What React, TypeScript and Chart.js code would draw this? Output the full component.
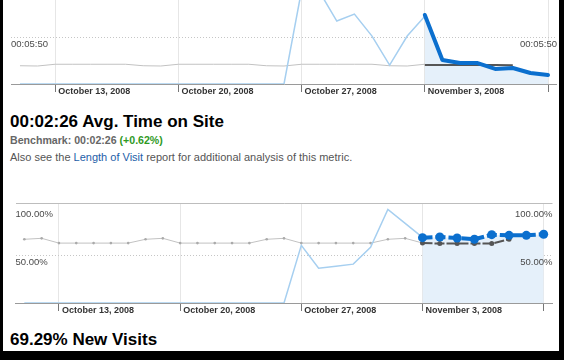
import React, { useEffect, useRef } from "react";
import { Chart, registerables } from "chart.js";

Chart.register(...registerables);

const FONT = "'Liberation Sans', Arial, Helvetica, sans-serif";
const N = null;

// 31 days, Oct 11 2008 .. Nov 10 2008
const days = [
  "Oct 11", "Oct 12", "Oct 13", "Oct 14", "Oct 15", "Oct 16", "Oct 17", "Oct 18",
  "Oct 19", "Oct 20", "Oct 21", "Oct 22", "Oct 23", "Oct 24", "Oct 25", "Oct 26",
  "Oct 27", "Oct 28", "Oct 29", "Oct 30", "Oct 31", "Nov 1", "Nov 2", "Nov 3",
  "Nov 4", "Nov 5", "Nov 6", "Nov 7", "Nov 8", "Nov 9", "Nov 10",
];

const tickIndex = [2, 9, 16, 23, 30];
const tickLabels = ["October 13, 2008", "October 20, 2008", "October 27, 2008", "November 3, 2008", ""];

// Avg. time on site (seconds)
const timeSelected = [N, N, N, N, N, N, N, N, N, N, N, N, N, N, N, N, N, N, N, N, N, N, N, 514, 179, 156, 156, 112, 119, 82, 67];
const timeEarlier = [0, 0, 0, 0, 0, 0, 0, 0, 0, 0, 0, 0, 0, 0, 0, 0, 700, 690, 469, 521, 357, 141, 357, 505, N, N, N, N, N, N, N];
const timeBenchmark = [136, 134, 147, 147, 147, 147, 147, 136, 134, 147, 147, 147, 147, 147, 136, 134, 147, 147, 147, 147, 147, 136, 134, 147, N, N, N, N, N, N, N];
const timeBenchmarkSelected = [N, N, N, N, N, N, N, N, N, N, N, N, N, N, N, N, N, N, N, N, N, N, N, 142, 142, 142, 142, 142, 140, N, N];
const timeTickValues = [0, 350, 700];
const timeTickLabels = ["", "00:05:50", ""];

// New visits (%)
const newSelected = [N, N, N, N, N, N, N, N, N, N, N, N, N, N, N, N, N, N, N, N, N, N, N, 68.3, 69.0, 67.9, 66.6, 71.4, 70.7, 70.7, 71.8];
const newEarlier = [0, 0, 0, 0, 0, 0, 0, 0, 0, 0, 0, 0, 0, 0, 0, 0, 60.3, 36.4, 38.5, 40.6, 58.2, 97.8, 83.2, 68.6, N, N, N, N, N, N, N];
const newBenchmark = [66.6, 67.6, 62.6, 62.6, 62.6, 62.6, 62.6, 66.6, 67.6, 62.6, 62.6, 62.6, 62.6, 62.6, 66.6, 67.6, 62.6, 62.6, 62.6, 62.6, 62.6, 66.6, 67.6, 62.7, N, N, N, N, N, N, N];
const newBenchmarkSelected = [N, N, N, N, N, N, N, N, N, N, N, N, N, N, N, N, N, N, N, N, N, N, N, 62.7, 62.1, 62.1, 62.1, 62.1, 66.6, N, N];
const newTickValues = [0, 50, 100, 104];
const newTickLabels = ["", "50.00%", "100.00%", ""];

const DARK_BLUE = "#0b6fce";
const LIGHT_BLUE = "#a6cff0";
const FILL_BLUE = "#e5f0fa";
const DARK_GRAY = "#555555";
const LIGHT_GRAY = "#c2c2c2";

const pts = (arr: (number | null)[]) =>
  arr.map((y, i) => ({ x: i, y, d: days[i] })).filter((p) => p.y !== null);

function yAxis(position: "left" | "right", max: number, values: number[], labels: string[], dotted: number, solid: number, showGrid: boolean) {
  return {
    type: "linear",
    position,
    min: 0,
    max,
    afterBuildTicks: (s: any) => {
      s.ticks = values.map((v) => ({ value: v }));
    },
    afterFit: (s: any) => {
      s.width = 0;
      s.paddingTop = 0;
      s.paddingBottom = 0;
    },
    grid: {
      display: showGrid,
      drawTicks: false,
      color: (c: any) => {
        const v = c.tick ? c.tick.value : null;
        if (v === dotted) return "#c6c6c6";
        if (v === solid) return "#bdbdbd";
        return "rgba(0,0,0,0)";
      },
      lineWidth: 1,
    },
    border: {
      display: false,
      dash: (c: any) => (c.tick && c.tick.value === dotted ? [1, 2] : []),
    },
    ticks: {
      z: 1,
      mirror: true,
      padding: 0,
      labelOffset: 7,
      color: "#4a4a4a",
      font: { family: FONT, size: 9.5 },
      callback: (v: any) => {
        const k = values.indexOf(v);
        return k >= 0 ? labels[k] : "";
      },
    },
  };
}

function makeConfig(datasets: any[], max: number, values: number[], labels: string[], dotted: number, solid: number) {
  return {
    type: "line",
    data: { datasets },
    options: {
      animation: false,
      responsive: false,
      devicePixelRatio: 1,
      events: [],
      layout: { padding: { top: 4, left: 0, right: 0, bottom: 0 } },
      elements: { line: { tension: 0 } },
      plugins: {
        legend: { display: false },
        tooltip: { enabled: false },
        filler: { drawTime: "beforeDatasetsDraw" },
      },
      scales: {
        x: {
          type: "linear",
          min: -0.51,
          max: 30.51,
          afterBuildTicks: (s: any) => {
            s.ticks = tickIndex.map((v) => ({ value: v }));
          },
          afterFit: (s: any) => {
            s.height = 20;
            s.paddingLeft = 0;
            s.paddingRight = 0;
          },
          grid: { color: "#e6e6e6", tickColor: "#777", tickLength: 8, drawOnChartArea: true, offset: false },
          border: { display: true, color: "#9a9a9a", width: 1 },
          ticks: {
            autoSkip: false,
            maxRotation: 0,
            minRotation: 0,
            align: "start",
            labelOffset: 3,
            padding: -6,
            color: "#333",
            font: { family: FONT, size: 9, weight: "bold" },
            callback: (v: any) => {
              const k = tickIndex.indexOf(v);
              return k >= 0 ? tickLabels[k] : "";
            },
          },
        },
        y: yAxis("left", max, values, labels, dotted, solid, true),
        y2: yAxis("right", max, values, labels, dotted, solid, false),
      },
    },
  };
}

function LineChart({ top, height, config }: { top: number; height: number; config: any }) {
  const ref = useRef<HTMLCanvasElement>(null);
  useEffect(() => {
    const chart = new Chart(ref.current as HTMLCanvasElement, config);
    return () => chart.destroy();
  }, []);
  return (
    <canvas
      ref={ref}
      width={546}
      height={height}
      style={{ position: "absolute", left: 8, top, width: 546, height }}
    />
  );
}

const timeConfig = makeConfig(
  [
    { data: pts(timeSelected), borderColor: DARK_BLUE, borderWidth: 4, pointRadius: 0, fill: "origin", backgroundColor: FILL_BLUE, borderJoinStyle: "round", borderCapStyle: "round" },
    { data: pts(timeBenchmarkSelected), borderColor: DARK_GRAY, borderWidth: 2, pointRadius: 0, fill: false },
    { data: pts(timeEarlier), borderColor: LIGHT_BLUE, borderWidth: 1.5, pointRadius: 0, fill: false },
    { data: pts(timeBenchmark), borderColor: LIGHT_GRAY, borderWidth: 1, pointRadius: 0, fill: false },
  ],
  700,
  timeTickValues,
  timeTickLabels,
  350,
  700
);

const newConfig = makeConfig(
  [
    { data: pts(newSelected), borderColor: DARK_BLUE, borderWidth: 4, borderDash: [10, 3], pointRadius: 4.5, pointBackgroundColor: DARK_BLUE, pointBorderWidth: 0, fill: "origin", backgroundColor: FILL_BLUE },
    { data: pts(newBenchmarkSelected), borderColor: DARK_GRAY, borderWidth: 2, borderDash: [10, 2], pointRadius: 2.5, pointBackgroundColor: DARK_GRAY, pointBorderWidth: 0, fill: false },
    { data: pts(newEarlier), borderColor: LIGHT_BLUE, borderWidth: 1.5, pointRadius: 0, fill: false },
    { data: pts(newBenchmark), borderColor: LIGHT_GRAY, borderWidth: 1, pointRadius: 1.3, pointBackgroundColor: "#aaa", pointBorderWidth: 0, fill: false },
  ],
  104,
  newTickValues,
  newTickLabels,
  50,
  104
);

const text = (top: number, size: number, bold: boolean, color: string, lh: number) => ({
  position: "absolute" as const,
  left: 7,
  top,
  fontSize: size,
  fontWeight: bold ? 700 : 400,
  color,
  lineHeight: lh + "px",
  whiteSpace: "nowrap" as const,
  fontFamily: FONT,
  margin: 0,
});

export default function App() {
  return (
    <div style={{ position: "fixed", left: 0, top: 0, width: 564, height: 360, background: "#000", overflow: "hidden" }}>
      <div style={{ position: "absolute", left: 3, top: 0, width: 556, height: 351, background: "#fff", overflow: "hidden" }}>
        <LineChart top={-14} height={118} config={timeConfig} />
        <div style={text(112, 17, true, "#000", 19)}>00:02:26 Avg. Time on Site</div>
        <div style={text(134, 10.6, true, "#666", 12)}>
          Benchmark: 00:02:26 <span style={{ color: "#2f9a1f" }}>(+0.62%)</span>
        </div>
        <div style={text(151, 11, false, "#555", 12)}>
          Also see the <span style={{ color: "#1d5ea8" }}>Length of Visit</span> report for additional analysis of this metric.
        </div>
        <LineChart top={199} height={124} config={newConfig} />
        <div style={text(330, 17, true, "#000", 19)}>69.29% New Visits</div>
      </div>
    </div>
  );
}
